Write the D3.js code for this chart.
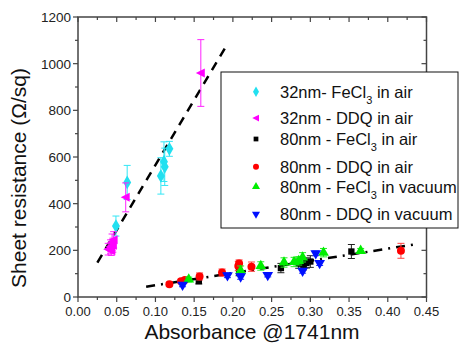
<!DOCTYPE html>
<html><head><meta charset="utf-8">
<script src="https://cdn.jsdelivr.net/npm/d3@7"></script>
<style>body{margin:0;background:#fff}svg{display:block;font-family:"Liberation Sans",Arial,sans-serif}</style>
</head><body><svg id="c" width="475" height="352"></svg>
<script>
// ---- data: [absorbance, sheet resistance, error] ----
const cyan32FeCl3Air = [[0.049,304,43],[0.0635,491,73],[0.107,519,78],[0.111,580,85],[0.112,558,80],[0.118,635,32]];
const mag32DDQAir = [[0.1586,960,143],[0.0616,427,62],[0.039,205,25],[0.042,215,30],[0.044,235,35],[0.045,222,30],[0.046,245,35],[0.043,198,20]];
const blk80FeCl3Air = [[0.156,68,12],[0.208,106,15],[0.262,124,20],[0.285,143,20],[0.291,138,22],[0.295,146,22],[0.300,152,25],[0.353,195,30]];
const red80DDQAir = [[0.118,55,8],[0.133,68,8],[0.138,73,8],[0.157,88,15],[0.186,105,15],[0.207,133,20],[0.208,144,15],[0.224,130,20],[0.417,198,32]];
const grn80FeCl3Vac = [[0.143,75,10],[0.210,113,20],[0.236,133,18],[0.266,148,20],[0.279,150,20],[0.285,155,18],[0.290,170,20],[0.317,190,18],[0.365,198,10]];
const blu80DDQVac = [[0.135,52,8],[0.193,93,10],[0.210,88,12],[0.245,94,8],[0.290,112,10],[0.307,187,10],[0.312,145,10]];
const fitSteepX = [0.025,0.193], fitSteepY = [147,1084];
const fitFlatX = [0.088,0.436], fitFlatY = [44,226];
const xTicks = [0,0.05,0.1,0.15,0.2,0.25,0.3,0.35,0.4,0.45];
const yTicks = [0,200,400,600,800,1000,1200];
const seriesNames = ["32nm- FeCl|3| in air","32nm - DDQ in air","80nm - FeCl|3| in air","80nm - DDQ in air","80nm - FeCl|3| in vacuum","80nm - DDQ in vacuum"];

const svg = d3.select("#c");
const L=78, R=426.5, T=17, B=297;
const x = d3.scaleLinear().domain([0,0.45]).range([L,R]);
const y = d3.scaleLinear().domain([0,1200]).range([B,T]);
const axisCol="#444";

// fit lines
const line = d3.line().x(d=>x(d[0])).y(d=>y(d[1]));
svg.append("path").datum(fitSteepX.map((v,i)=>[v,fitSteepY[i]])).attr("d",line)
  .attr("stroke","#000").attr("stroke-width",2.5).attr("stroke-dasharray","9,7").attr("fill","none");
svg.append("path").datum(fitFlatX.map((v,i)=>[v,fitFlatY[i]])).attr("d",line)
  .attr("stroke","#000").attr("stroke-width",2.5).attr("stroke-dasharray","9,6,2,6").attr("fill","none");

// symbols
const leftTri = s => `M${-s},0L${s*0.8},${-s*0.9}L${s*0.8},${s*0.9}Z`;
const series = [
  {data:cyan32FeCl3Air,color:"#22e0f0",err:"#33e6f5",sym:d3.symbol(d3.symbolDiamond,55)},
  {data:mag32DDQAir,color:"#ff00ff",err:"#ff22ff",sym:()=>leftTri(5)},
  {data:blk80FeCl3Air,color:"#000",err:"#222",sym:d3.symbol(d3.symbolSquare,40)},
  {data:red80DDQAir,color:"#f00",err:"#ff4040",sym:d3.symbol(d3.symbolCircle,50)},
  {data:grn80FeCl3Vac,color:"#00ee00",err:"#22ee22",sym:d3.symbol(d3.symbolTriangle,50)},
  {data:blu80DDQVac,color:"#0010ff",err:"#2030ff",sym:d3.symbol(d3.symbolTriangle,50),rot:180}
];
const gPts = svg.append("g");
series.forEach(s=>{
  const g = gPts.append("g");
  s.data.forEach(d=>{
    const cx=x(d[0]), y1=y(d[1]+d[2]), y2=y(d[1]-d[2]);
    g.append("line").attr("x1",cx).attr("x2",cx).attr("y1",y1).attr("y2",y2).attr("stroke",s.err).attr("stroke-width",1);
    [y1,y2].forEach(yy=>g.append("line").attr("x1",cx-3.5).attr("x2",cx+3.5).attr("y1",yy).attr("y2",yy).attr("stroke",s.err).attr("stroke-width",1));
  });
  s.data.forEach(d=>{
    g.append("path").attr("d",s.sym()).attr("fill",s.color)
      .attr("transform",`translate(${x(d[0])},${y(d[1])})${s.rot?` rotate(${s.rot})`:""}`);
  });
});

// axes frame
const minorX = d3.range(0,0.451,0.025), minorY = d3.range(0,1201,100);
const gA = svg.append("g");
gA.append("rect").attr("x",L).attr("y",T).attr("width",R-L).attr("height",B-T).attr("fill","none").attr("stroke",axisCol).attr("stroke-width",1.5);
minorX.forEach((v,i)=>{
  const maj = i%2===0, px=x(v);
  gA.append("line").attr("x1",px).attr("x2",px).attr("y1",B).attr("y2",B+(maj?5:3)).attr("stroke",axisCol).attr("stroke-width",1.2);
  gA.append("line").attr("x1",px).attr("x2",px).attr("y1",T).attr("y2",T+(maj?5:3)).attr("stroke",axisCol).attr("stroke-width",1.2);
});
minorY.forEach((v,i)=>{
  const maj = i%2===0, py=y(v);
  gA.append("line").attr("x1",L-(maj?5:3)).attr("x2",L).attr("y1",py).attr("y2",py).attr("stroke",axisCol).attr("stroke-width",1.2);
  gA.append("line").attr("x1",R-(maj?5:3)).attr("x2",R).attr("y1",py).attr("y2",py).attr("stroke",axisCol).attr("stroke-width",1.2);
});
xTicks.forEach(v=>gA.append("text").attr("x",x(v)).attr("y",316).attr("text-anchor","middle").attr("font-size",13).attr("fill","#222").text(v.toFixed(2)));
yTicks.forEach(v=>gA.append("text").attr("x",71).attr("y",y(v)+5).attr("text-anchor","end").attr("font-size",13.5).attr("fill","#222").text(v));

svg.append("text").attr("x",252).attr("y",339).attr("text-anchor","middle").attr("font-size",21).attr("fill","#111").text("Absorbance @1741nm");
svg.append("text").attr("transform","translate(26,178) rotate(-90)").attr("text-anchor","middle").attr("font-size",21).attr("fill","#111").text("Sheet resistance (\u03A9/sq)");

// legend
const leg = svg.append("g");
leg.append("rect").attr("x",221).attr("y",72).attr("width",237).attr("height",156).attr("fill","#fff").attr("stroke","#111").attr("stroke-width",1);
const rowsY=[91.7,118,139,166.7,186.7,214];
seriesNames.forEach((name,i)=>{
  const s=series[i], sc=0.75;
  leg.append("path").attr("d",s.sym()).attr("fill",s.color)
    .attr("transform",`translate(256,${rowsY[i]}) scale(${sc})${s.rot?` rotate(${s.rot})`:""}`);
  const t = leg.append("text").attr("x",280).attr("y",rowsY[i]+6).attr("font-size",16.5).attr("fill","#111");
  const parts = name.split("|");
  parts.forEach((p,j)=>{
    if(j%2===1){ t.append("tspan").attr("font-size",11).attr("dy",6).text(p); }
    else { const ts=t.append("tspan").text(p); if(j>0) ts.attr("dy",-6); }
  });
});
</script></body></html>
